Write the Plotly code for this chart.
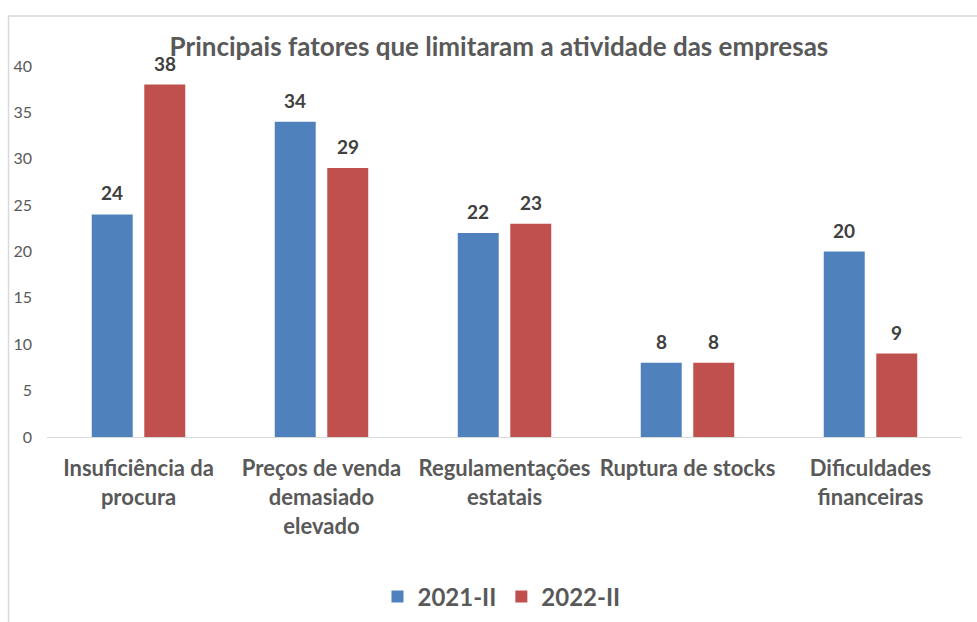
import plotly.graph_objects as go

categories = ["Insuficiência da<br>procura", "Preços de venda<br>demasiado<br>elevado",
              "Regulamentações<br>estatais", "Ruptura de stocks", "Dificuldades<br>financeiras"]
series_2021 = [24, 34, 22, 8, 20]
series_2022 = [38, 29, 23, 8, 9]
series_names = ["2021-II", "2022-II"]
title_text = "Principais fatores que limitaram a atividade das empresas"

FONT = "Lato"
GREY = "#595959"
DARK = "#404040"
BARGAP = 0.426
GROUPGAP = 0.22

fig = go.Figure()
fig.add_trace(go.Bar(x=list(range(len(categories))), y=series_2021, name=series_names[0],
                     marker=dict(color="#4F81BD")))
fig.add_trace(go.Bar(x=list(range(len(categories))), y=series_2022, name=series_names[1],
                     marker=dict(color="#C0504D")))

off = (1 - BARGAP) / 4
annotations = []
for i, (a, b) in enumerate(zip(series_2021, series_2022)):
    for dx, v in ((-off, a), (off, b)):
        annotations.append(dict(x=i + dx, y=v, xref="x", yref="y", text=str(v),
                                showarrow=False, yanchor="bottom", yshift=8,
                                font=dict(family=FONT, size=19, color=DARK, weight="bold")))

fig.update_layout(
    template="none",
    width=977, height=622,
    margin=dict(l=47, r=15, t=66, b=185, autoexpand=False),
    paper_bgcolor="white", plot_bgcolor="white",
    barmode="group", bargap=BARGAP, bargroupgap=GROUPGAP,
    title=dict(text=title_text, x=0.5107, xanchor="center", y=0.9244, yanchor="middle",
               font=dict(family=FONT, size=26, color=GREY, weight="bold")),
    xaxis=dict(tickmode="array", tickvals=list(range(len(categories))), ticktext=categories,
               range=[-0.5, len(categories) - 0.5], automargin=False,
               showline=True, linecolor="#d9d9d9", linewidth=1, showgrid=False, zeroline=False,
               ticks="", ticklabelstandoff=12,
               tickfont=dict(family=FONT, size=22, color=GREY, weight="bold")),
    yaxis=dict(range=[0, 40], dtick=5, showgrid=False, zeroline=False, showline=False,
               automargin=False, ticks="", ticklabelstandoff=14,
               tickfont=dict(family=FONT, size=16, color=GREY)),
    legend=dict(orientation="h", x=0.4967, xanchor="center", y=-0.431, yanchor="middle",
                font=dict(family=FONT, size=24, color=GREY, weight="bold"), itemwidth=30,
                traceorder="normal", bgcolor="rgba(0,0,0,0)"),
    annotations=annotations,
    shapes=[dict(type="rect", xref="paper", yref="paper", x0=(8.5 - 47) / 915, x1=1.2,
                 y0=-0.6, y1=(437 - 16) / 371, line=dict(color="#d9d9d9", width=1.5),
                 fillcolor="rgba(0,0,0,0)", layer="below")],
)

fig.write_html("out.html", config={"displayModeBar": False},
               post_script="document.body.style.margin='0';document.body.style.overflow='hidden';")
